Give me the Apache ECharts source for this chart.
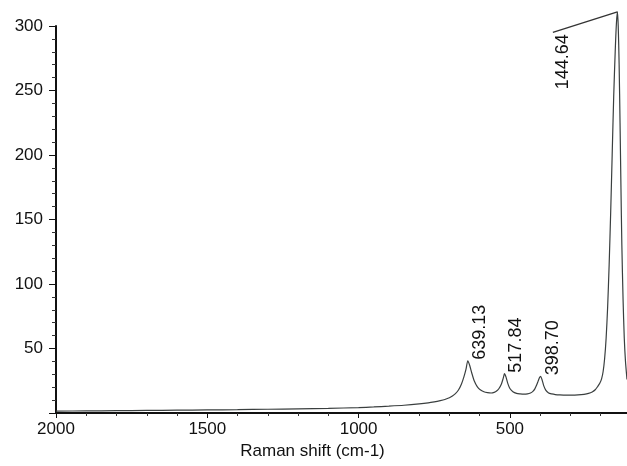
<!DOCTYPE html>
<html>
<head>
<meta charset="utf-8">
<script src="https://cdn.jsdelivr.net/npm/echarts@6/dist/echarts.min.js"></script>
<style>
html,body{margin:0;padding:0;background:#fff;}
#c{width:627px;height:466px;}
</style>
</head>
<body>
<div id="c"></div>
<script>
// Raman shift (cm-1) and intensity
var ramanShift = [2000,1900,1800,1700,1600,1500,1400,1300,1200,1100,1000,950,900,850,800,770,750,730,715,700,690,680,670,660,652,645,639.13,633,626,618,608,598,586,574,562,552,544,536,528,522,517.84,513,507,500,490,478,466,454,442,432,424,418,412,407,402,398.70,394,388,381,372,362,350,335,315,295,275,255,240,228,218,210,203,197,192,187,182,177,172,167,162,157,152,148,144.64,142,139,136,133,130,126,122,118,113];
var intensity  = [1.5,1.6,1.8,2.0,2.2,2.4,2.6,2.9,3.2,3.6,4.2,4.7,5.3,6.0,7.0,7.8,8.6,9.6,10.5,11.8,13.2,15.0,17.8,22.5,28,34,40.5,37,31,25,20.5,18,16.5,15.8,15.5,16.0,17.0,19.0,22.5,27,30.5,28,23,19,16.5,15.2,14.8,14.6,14.8,15.5,16.8,18.5,21.5,24.5,27.5,28.5,26,21,17.5,15.5,14.8,14.3,14.0,13.8,13.8,14.0,14.5,15.2,16.3,18.0,20.5,23.0,26.5,32,42,58,82,115,155,200,245,280,302,311,300,270,225,175,130,88,58,40,26];
var yTickLabels = [50,100,150,200,250,300];
var xMajorTicks = [500,1000,1500,2000];
var xMinorTicks = [200,300,400,600,700,800,900,1100,1200,1300,1400,1600,1700,1800,1900];
var peakShifts = [639.13,517.84,398.70];
var peakHeights = [40.5,30.5,28.5];
var mainPeakShift = 144.64;
var mainPeakHeight = 311;
var mainLabelAnchor = [326,251];
var leaderStart = [358,295];

var data = ramanShift.map(function(x,i){return [x,intensity[i]];});
var font = '"Liberation Sans", Arial, sans-serif';
var txt = '#111111';

var markPts = peakShifts.map(function(x,i){
  return {coord:[x,peakHeights[i]], value:x.toFixed(2),
    label:{show:true, formatter:x.toFixed(2), rotate:90, position:[3,-1], align:'left', verticalAlign:'top',
      color:txt, fontSize:18, fontFamily:font}};
});
markPts.push({coord:mainLabelAnchor, value:mainPeakShift.toFixed(2),
  label:{show:true, formatter:mainPeakShift.toFixed(2), rotate:90, position:[0,0], align:'left', verticalAlign:'middle',
    color:txt, fontSize:18, fontFamily:font}});

var chart = echarts.init(document.getElementById('c'), null, {renderer:'canvas'});
chart.setOption({
  backgroundColor:'#ffffff',
  animation:false,
  grid:{left:56, right:0, top:26, bottom:53, containLabel:false},
  xAxis:[{
    type:'value', inverse:true, min:113, max:2000, position:'bottom',
    name:'Raman shift (cm-1)', nameLocation:'middle', nameGap:25,
    nameTextStyle:{color:txt, fontSize:17, fontFamily:font, padding:[0,58,0,0]},
    axisLine:{show:true, onZero:false, lineStyle:{color:'#111', width:2}},
    axisTick:{show:true, customValues:xMajorTicks, length:5, lineStyle:{color:'#111', width:1}},
    axisLabel:{show:true, customValues:xMajorTicks, color:txt, fontSize:17, fontFamily:font, margin:8,
      formatter:function(v){return String(v);}},
    splitLine:{show:false}
  },{
    type:'value', inverse:true, min:113, max:2000, position:'bottom',
    axisLine:{show:false},
    axisTick:{show:true, customValues:xMinorTicks, length:3, lineStyle:{color:'#333', width:1}},
    axisLabel:{show:false},
    splitLine:{show:false}
  }],
  yAxis:{
    type:'value', min:0, max:300, interval:50,
    axisLine:{show:true, lineStyle:{color:'#111', width:2}},
    axisTick:{show:true, length:7, lineStyle:{color:'#111', width:1}},
    minorTick:{show:true, splitNumber:5, length:4, lineStyle:{color:'#333', width:1}},
    axisLabel:{show:true, showMinLabel:false, color:txt, fontSize:17, fontFamily:font, margin:13,
      formatter:function(v){return yTickLabels.indexOf(v)>=0?String(v):'';}},
    splitLine:{show:false}
  },
  series:[{
    type:'line', data:data, xAxisIndex:0, showSymbol:false, smooth:0.25, clip:false,
    lineStyle:{color:'#3a3f3f', width:1.2},
    markPoint:{symbol:'circle', symbolSize:0, data:markPts, animation:false}
  },{
    type:'line', data:[leaderStart,[mainPeakShift, mainPeakHeight]], xAxisIndex:0, showSymbol:false, clip:false,
    lineStyle:{color:'#333', width:1.3}, silent:true
  }]
});
</script>
</body>
</html>
